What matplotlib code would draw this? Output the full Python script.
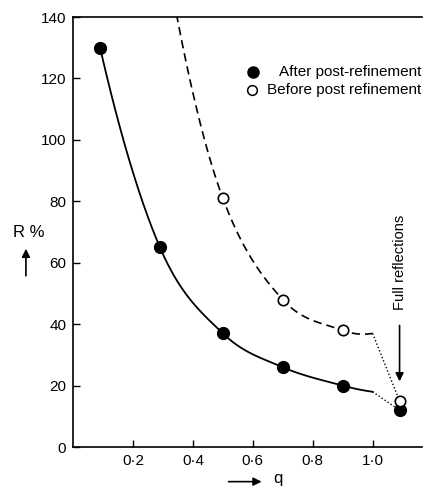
import numpy as np
import matplotlib.pyplot as plt
from matplotlib.patches import FancyArrowPatch

plt.rcParams['font.family'] = ['Liberation Sans', 'DejaVu Sans']

# measured points
q_after = [0.09, 0.29, 0.5, 0.7, 0.9]
r_after = [130, 65, 37, 26, 20]
q_before = [0.5, 0.7, 0.9]
r_before = [81, 48, 38]

# full reflections
q_full = 1.09
r_full_after = 12
r_full_before = 15

# hand-drawn curve knots
after_knots_q = [0.09, 0.29, 0.5, 0.7, 0.9, 1.0]
after_knots_r = [130, 65, 37, 26, 20, 18]
before_knots_q = [0.345, 0.5, 0.7, 0.9, 1.0]
before_knots_r = [141, 81, 48, 38, 37]

xtick_vals = [0.2, 0.4, 0.6, 0.8, 1.0]
xtick_labels = ['0·2', '0·4', '0·6', '0·8', '1·0']
ytick_vals = [0, 20, 40, 60, 80, 100, 120, 140]

legend_labels = ['After post-refinement', 'Before post refinement']


def smooth(xs, ys, n=40):
    # cubic hermite through the knots
    xs = np.array(xs, float)
    ys = np.array(ys, float)
    m = np.zeros_like(ys)
    m[1:-1] = (ys[2:] - ys[:-2]) / (xs[2:] - xs[:-2])
    m[0] = 2 * (ys[1] - ys[0]) / (xs[1] - xs[0]) - m[1]
    m[-1] = 2 * (ys[-1] - ys[-2]) / (xs[-1] - xs[-2]) - m[-2]
    out_x, out_y = [], []
    for i in range(len(xs) - 1):
        h = xs[i + 1] - xs[i]
        t = np.linspace(0, 1, n)
        h00 = 2 * t**3 - 3 * t**2 + 1
        h10 = t**3 - 2 * t**2 + t
        h01 = -2 * t**3 + 3 * t**2
        h11 = t**3 - t**2
        out_x.append(xs[i] + t * h)
        out_y.append(h00 * ys[i] + h10 * h * m[i] + h01 * ys[i + 1] + h11 * h * m[i + 1])
    return np.concatenate(out_x), np.concatenate(out_y)


fig = plt.figure(figsize=(4.25, 4.87), dpi=100)
ax = fig.add_axes([0.172, 0.082, 0.821, 0.883])

sx, sy = smooth(after_knots_q, after_knots_r)
ax.plot(sx, sy, color='k', lw=1.3)
bx, by = smooth(before_knots_q, before_knots_r)
ax.plot(bx, by, color='k', lw=1.2, dashes=(5, 3))

ax.plot([after_knots_q[-1], q_full], [after_knots_r[-1], r_full_after], color='k', lw=1, ls=(0, (1, 1.6)))
ax.plot([before_knots_q[-1], q_full], [before_knots_r[-1], r_full_before], color='k', lw=1, ls=(0, (1, 1.6)))

ax.plot(q_after + [q_full], r_after + [r_full_after], 'o', color='k', ms=8.5, zorder=5)
ax.plot(q_before + [q_full], r_before + [r_full_before], 'o', mfc='white', mec='k', mew=1.2, ms=7.5, zorder=6)

ax.set_xlim(0, 1.165)
ax.set_ylim(0, 140)
ax.set_xticks(xtick_vals)
ax.set_xticklabels(xtick_labels)
ax.set_yticks(ytick_vals)
ax.tick_params(direction='in', length=5, width=1, labelsize=11, pad=5)
ax.spines['right'].set_visible(False)
for s in ['left', 'top', 'bottom']:
    ax.spines[s].set_linewidth(1.2)

# legend, laid out by hand like the original
ax.plot([0.595], [0.852], 'o', color='k', ms=8, transform=fig.transFigure, clip_on=False)
ax.plot([0.593], [0.815], 'o', mfc='white', mec='k', mew=1.1, ms=7, transform=fig.transFigure, clip_on=False)
fig.text(0.992, 0.852, legend_labels[0], fontsize=11, ha='right', va='center')
fig.text(0.992, 0.815, legend_labels[1], fontsize=11, ha='right', va='center')

ax.text(q_full, 60, 'Full reflections', rotation=90, ha='center', va='center', fontsize=10.5)
ax.annotate('', xy=(q_full, 20.5), xytext=(q_full, 40.5),
            arrowprops=dict(arrowstyle='-|>', color='k', lw=1.2, mutation_scale=12))

fig.text(0.068, 0.522, 'R %', fontsize=12, ha='center', va='center')
fig.patches.append(FancyArrowPatch(
    (0.061, 0.428), (0.061, 0.495), transform=fig.transFigure,
    arrowstyle='-|>', mutation_scale=12, color='k', lw=1.2))
fig.patches.append(FancyArrowPatch(
    (0.531, 0.011), (0.622, 0.011), transform=fig.transFigure,
    arrowstyle='-|>', mutation_scale=12, color='k', lw=1.2))
fig.text(0.653, 0.017, 'q', fontsize=12, ha='center', va='center')

fig.savefig('out.png', dpi=100)
